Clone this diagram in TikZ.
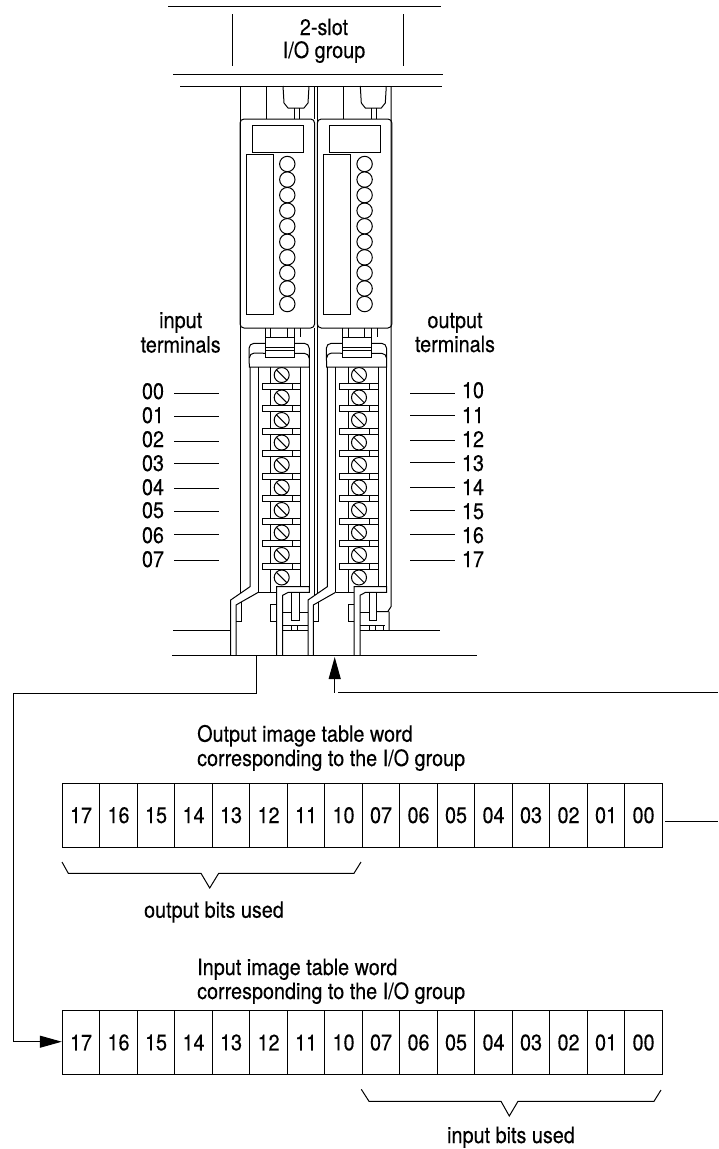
\documentclass[tikz,border=0pt]{standalone}
\usepackage{fontspec}
\setmainfont[FakeStretch=0.88,FakeBold=0.25]{TeX Gyre Heros}
\usetikzlibrary{arrows.meta}
\tikzset{
  x=1pt,y=-1pt,
  ln/.style={line width=1pt,line join=miter},
  txt/.style={inner sep=0pt,font=\fontsize{22.5}{24.3}\selectfont},
  cell/.style={draw,line width=1pt,minimum width=37.5pt,minimum height=64pt,inner sep=0pt,font=\fontsize{22.5}{24}\selectfont},
  pointer/.style={line width=1pt,-{Triangle[length=22pt,width=12pt]}},
}
\begin{document}
\begin{tikzpicture}
\useasboundingbox (0,0) rectangle (718,1149);
\fill[white] (0,0) rectangle (718,1149);
% rack frame
\draw[ln] (168,6.5)--(441,6.5);
\draw[ln] (232,14)--(232,66) (403,14)--(403,66);
\draw[ln] (173,74)--(443,74) (180,86)--(442,86);
\node[txt,anchor=base] (slot1) at (324,35) {2-slot};
\node[txt,anchor=base] (slot2) at (324,58) {I/O group};
% modules
\foreach \dx in {0,77.3}{
\begin{scope}[xshift=\dx pt,ln]
  \draw (240,86)--(240,593.4);
  \draw (266,86)--(266,119);
  \draw (283,86)--(284,103)--(288,108)--(304,108)--(308,103)--(309,86);
  \draw (294,108)--(294,119) (299,108)--(299,119);
  \draw[rounded corners=4pt] (240,119) rectangle (314.6,328);
  \draw (252,125.5) rectangle (303,152);
  \draw (246,154) rectangle (273.3,314);
  \foreach \i in {0,...,9}{\draw (287.3,164+15.56*\i) circle[radius=7.7pt];}
  % header plug
  \foreach \v in {265.3,270.7,287.3,294.3,300}{\draw (\v,328)--(\v,337);}
  \draw (265.3,337) rectangle (294.3,357.5);
  \draw (265.3,347)--(294.3,347) (265.3,350)--(294.3,350);
  % cap
  \draw (265.3,343.3)--(254,343.3) arc[start angle=90,end angle=180,radius=5pt]--(249.3,367)--(309.3,367)--(309.3,348.3) arc[start angle=0,end angle=90,radius=5pt]--(294.3,343.3);
  \draw (249.3,358) arc[start angle=180,end angle=90,radius=5pt]--(265.3,353.3);
  \draw (294.3,353.3)--(304.3,353.3) arc[start angle=90,end angle=0,radius=5pt];
  % terminal strip
  \draw (258.3,367)--(258.3,592.3) (270.7,367)--(270.7,592.3) (300.7,367)--(300.7,586.7) (309.3,367)--(309.3,586.7);
  \foreach \i in {0,...,8}{
    \filldraw[fill=white] (262.3,383+22.5*\i) rectangle (300.7,389+22.5*\i);
    \draw (292.3,383+22.5*\i)--(292.3,389+22.5*\i);
  }
  \foreach \i in {0,...,9}{
    \filldraw[fill=white] (281.7,375+22.5*\i) circle[radius=7.5pt];
    \draw (276.4,369.7+22.5*\i)--(287,380.3+22.5*\i);
  }
  % lower body
  \draw (250,367)--(250,586.7)--(230.7,600)--(230.7,655);
  \draw (258.3,592.3)--(236,605)--(236,655);
  \draw (258.3,592.3)--(276.7,592.3);
  \draw (241,602)--(241,621.3)--(236,621.3);
  \draw (276.7,604.3)--(270.7,604.3)--(270.7,621.3)--(276.7,621.3);
  \draw (276.7,655)--(276.7,586.7)--(309.3,586.7)--(309.3,592.3)--(288.3,592.3)--(282.7,595.3)--(282.7,655);
  \draw (291.7,592.3)--(291.7,620)--(299.3,620)--(299.3,592.3);
  \draw (282.7,612.7)--(291.7,612.7);
  \draw (282.7,625)--(308,625);
\end{scope}}
% module-specific details
\draw[ln] (299.3,612.7)--(308,612.7);
\draw[ln] (291.7,625)--(291.7,630.7) (297.3,625)--(297.3,630.7);
\draw[ln] (391,86)--(391,606.7)--(387.7,611.7)--(376.6,611.7) (389,611.7)--(389,630.7);
\draw[ln] (369,625)--(369,630.7) (375,625)--(375,630.7) (383,625)--(383,630.7);
\draw[ln] (314.6,328)--(314.6,595) (314.6,86)--(314.6,119);
% base lines
\coordinate (basea) at (256.7,655);
\coordinate (baseb) at (334.7,657);
\draw[ln] (173,630.7)--(230.7,630.7) (282.7,630.7)--(308,630.7) (360,630.7)--(440,630.7);
\draw[ln] (172,655)--(477,655);
% terminal labels
\node[txt,anchor=base] (inl1) at (180.7,328) {input};
\node[txt,anchor=base] (inl2) at (180.7,352.5) {terminals};
\node[txt,anchor=base] (outl1) at (455,328) {output};
\node[txt,anchor=base] (outl2) at (455,352) {terminals};
\foreach \n/\by/\ly in {00/399/393.7,01/423/416,02/447/441,03/471/463,04/495/488,05/518/511.7,06/543/534.7,07/567/560}{
  \node[txt,anchor=base] (t\n) at (153,\by) {\n};
  \draw[ln] (174,\ly)--(219,\ly);
}
\foreach \n/\by/\ly in {10/398/393.3,11/423/415.7,12/447/440.7,13/471/462.7,14/495/487.3,15/519/510.7,16/543/534,17/567/560}{
  \node[txt,anchor=base] (t\n) at (473,\by) {\n};
  \draw[ln] (410,\ly)--(455,\ly);
}
% word tables
\node[txt,anchor=base west] (outa) at (197,741.7) {Output image table word};
\node[txt,anchor=base west] (outb) at (197,766) {corresponding to the I/O group};
\node[txt,anchor=base west] (ina) at (197,975) {Input image table word};
\node[txt,anchor=base west] (inb) at (197,999) {corresponding to the I/O group};
\foreach \n [count=\i from 0] in {17,16,15,14,13,12,11,10,07,06,05,04,03,02,01,00}{
  \node[cell] (o\n) at (81.05+37.5*\i,815.2) {\n};
  \node[cell] (i\n) at (81.05+37.5*\i,1042.5) {\n};
}
% braces
\draw[ln] (62,862)--(68.3,873.3)--(201,873.3)--(209.7,888)--(218.7,873.3)--(354,873.3)--(361,862);
\draw[ln] (361.3,1089.3)--(369,1101.3)--(501,1101.3)--(509.3,1116)--(518,1101.3)--(654,1101.3)--(661,1090);
\node[txt,anchor=base] (obits) at (214,917.7) {output bits used};
\node[txt,anchor=base] (ibits) at (511,1143) {input bits used};
% connectors
\coordinate (c1) at (256.7,693);
\coordinate (c2) at (13,693);
\coordinate (c3) at (13,1041.7);
\draw[ln] (basea)--(c1)--(c2)--(c3);
\draw[pointer] (c3)--(i17.west|-c3);
\coordinate (d1) at (338,692.7);
\coordinate (d2) at (718,692.7);
\coordinate (d0) at (334.7,692.7);
\draw[pointer] (d0)--(baseb);
\draw[ln] (d1)--(d2);
\coordinate (e1) at (665,821.3);
\coordinate (e2) at (718,821.3);
\draw[ln] (e1)--(e2);
\end{tikzpicture}
\end{document}
